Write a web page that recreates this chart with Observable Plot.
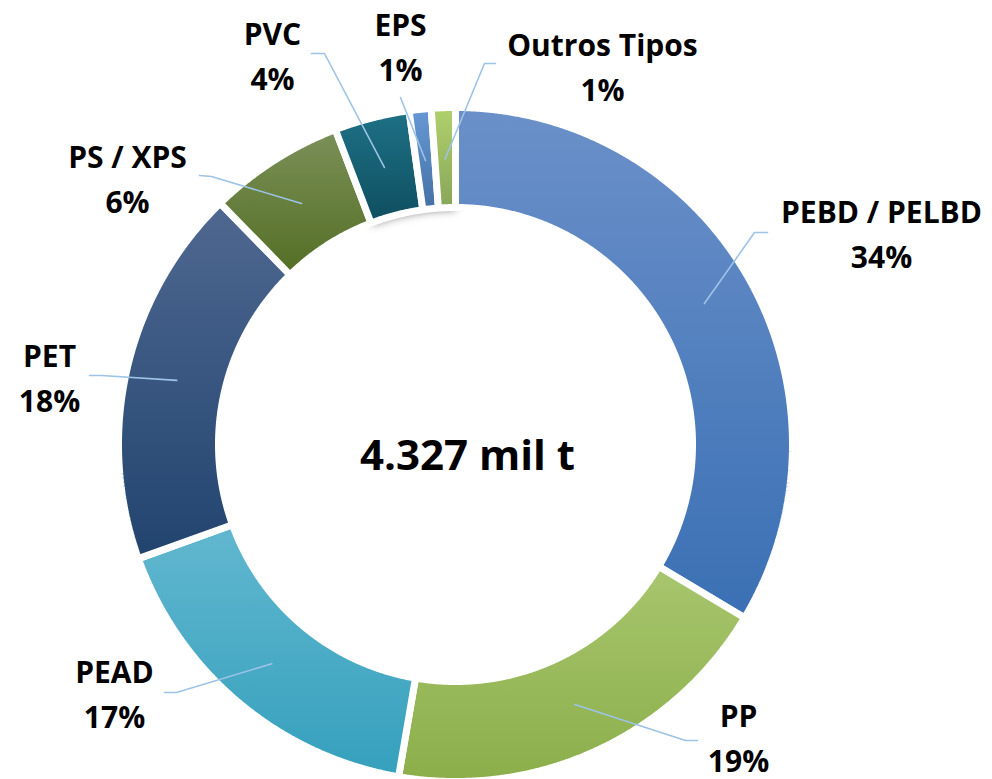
<!DOCTYPE html>
<html>
<head>
<meta charset="utf-8">
<script src="https://cdn.jsdelivr.net/npm/d3@7"></script>
<script src="https://cdn.jsdelivr.net/npm/@observablehq/plot@0.6"></script>
<style>
  html, body { margin: 0; padding: 0; background: #fff; }
  #chart { width: 992px; height: 779px; }
</style>
</head>
<body>
<div id="chart"></div>
<script>
// ---- data ----
const categories = ["PEBD / PELBD", "PP", "PEAD", "PET", "PS / XPS", "PVC", "EPS", "Outros Tipos"];
const shares = [33.6, 19.1, 16.8, 18.2, 6.5, 3.6, 1.05, 1.15];
const pctLabels = ["34%", "19%", "17%", "18%", "6%", "4%", "1%", "1%"];
const totalLabel = "4.327 mil t";

// ---- styles ----
const topColors    = ["#6B90C9", "#A8C66E", "#62B7CF", "#4F6891", "#7B9059", "#1E7186", "#6799D5", "#B0D16C"];
const bottomColors = ["#3A70B4", "#8BAE4A", "#35A0BD", "#21446E", "#546E24", "#0F4E60", "#4570A5", "#88A659"];
const leaderColor = "#9DC3E6";
const fontFamily = "'Open Sans', Carlito, Calibri, Lato, sans-serif";

// ---- layout ----
const W = 992, H = 779;
const cx = 455, cy = 444, rOuter = 337, rInner = 237, rLeader = 286;
const labelX = [881, 738, 114, 49, 127, 272, 400, 602];
const labelY = [222, 726, 682, 366, 167, 44, 35, 55];
const lineGap = 45;
const elbowX = [754, 685, 176, 101, 211, 324, 425, 484];
const elbowY = [232, 740, 692, 375, 176, 53, 160, 63];
const endX   = [767, 697, 164, 89, 199, 311, 400, 495];
const endY   = [232, 740, 692, 375, 175, 53, 97, 63];
const centerTextX = 467, centerTextY = 469;
const shadowFrom = 5; // slices from this index on carry a shadow

// ---- geometry from data ----
const total = d3.sum(shares);
let acc = 0;
const slices = categories.map((c, i) => {
  const a0 = acc / total * 2 * Math.PI;
  acc += shares[i];
  const a1 = acc / total * 2 * Math.PI;
  return {i, c, a0, a1, mid: (a0 + a1) / 2};
});
const px = (r, a) => cx + r * Math.sin(a);
const py = (r, a) => cy - r * Math.cos(a);
function arcPolygon(s, ro = rOuter, ri = rInner) {
  const n = Math.max(2, Math.ceil((s.a1 - s.a0) / 0.004));
  const pts = [];
  for (let k = 0; k <= n; k++) { const a = s.a0 + (s.a1 - s.a0) * k / n; pts.push({x: px(ro, a), y: py(ro, a)}); }
  for (let k = n; k >= 0; k--) { const a = s.a0 + (s.a1 - s.a0) * k / n; pts.push({x: px(ri, a), y: py(ri, a)}); }
  return pts;
}

const shadowBand = arcPolygon({a0: slices[shadowFrom].a0 + 0.01, a1: slices[slices.length - 1].a1}, rOuter - 4, rInner + 4);

const sliceMarks = slices.map(s => Plot.line(arcPolygon(s), {
  x: "x", y: "y", fill: `url(#grad${s.i})`, stroke: "white", strokeWidth: 7,
  strokeLinejoin: "miter", curve: "linear-closed"
}));

const leaders = [];
slices.forEach(s => {
  leaders.push({k: s.i, x: px(rLeader, s.mid), y: py(rLeader, s.mid)});
  leaders.push({k: s.i, x: elbowX[s.i], y: elbowY[s.i]});
  leaders.push({k: s.i, x: endX[s.i], y: endY[s.i]});
});

const labels = slices.map(s => ({name: s.c, pct: pctLabels[s.i], x: labelX[s.i], y: labelY[s.i]}));

const chart = Plot.plot({
  width: W, height: H, margin: 0,
  x: {domain: [0, W], range: [0, W], axis: null},
  y: {domain: [0, H], range: [0, H], axis: null},
  style: {fontFamily, background: "white", overflow: "visible"},
  marks: [
    Plot.line(shadowBand, {x: "x", y: "y", fill: "#000", fillOpacity: 0.55, stroke: "none", dy: 6, curve: "linear-closed"}),
    ...sliceMarks,
    Plot.line(leaders, {x: "x", y: "y", z: "k", stroke: leaderColor, strokeWidth: 1.6, curve: "linear"}),
    Plot.text(labels, {x: "x", y: "y", text: "name", fontSize: 30, fontWeight: "bold", fill: "black", lineAnchor: "bottom", textAnchor: "middle"}),
    Plot.text(labels, {x: "x", y: d => d.y + lineGap, text: "pct", fontSize: 30, fontWeight: "bold", fill: "black", lineAnchor: "bottom", textAnchor: "middle"}),
    Plot.text([totalLabel], {x: () => centerTextX, y: () => centerTextY, text: d => d, fontSize: 42, fontWeight: "bold", fill: "black", lineAnchor: "bottom", textAnchor: "middle"})
  ]
});

// gradients and shadow defs
const svg = d3.select(chart.tagName.toLowerCase() === "svg" ? chart : chart.querySelector("svg"));
const defs = svg.insert("defs", ":first-child");
topColors.forEach((c, i) => {
  const g = defs.append("linearGradient").attr("id", `grad${i}`).attr("x1", 0).attr("y1", 0).attr("x2", 0).attr("y2", 1);
  g.append("stop").attr("offset", "0%").attr("stop-color", c);
  g.append("stop").attr("offset", "100%").attr("stop-color", bottomColors[i]);
});
const f = defs.append("filter").attr("id", "blur").attr("x", "-20%").attr("y", "-20%").attr("width", "140%").attr("height", "140%");
f.append("feGaussianBlur").attr("stdDeviation", 3);
svg.selectAll("g[aria-label='line']").filter((d, i) => i === 0).attr("filter", "url(#blur)");
svg.selectAll("path").filter(function() {
  return this.getAttribute("fill") === "#000" || (this.parentNode && this.parentNode.getAttribute("fill") === "#000");
}).attr("filter", "url(#blur)");

document.getElementById("chart").appendChild(chart);
</script>
</body>
</html>
